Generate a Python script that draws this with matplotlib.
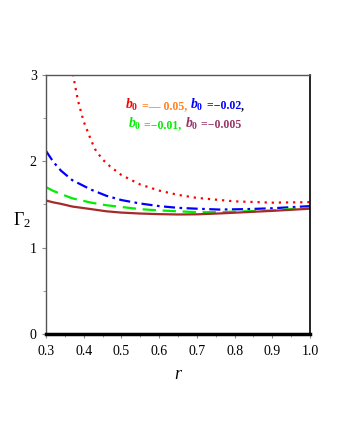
import matplotlib
matplotlib.use('Agg')
import matplotlib.pyplot as plt
from matplotlib.offsetbox import TextArea, HPacker, VPacker, AnnotationBbox

# serif look like the reference
plt.rcParams['font.family'] = ['Liberation Serif', 'DejaVu Serif']
plt.rcParams['mathtext.fontset'] = 'custom'
plt.rcParams['mathtext.rm'] = 'Liberation Serif'
plt.rcParams['mathtext.it'] = 'Liberation Serif:italic:bold'
plt.rcParams['mathtext.bf'] = 'Liberation Serif:bold'

# values
r_red = [0.36, 0.372, 0.385, 0.40, 0.42, 0.43, 0.45, 0.47, 0.50, 0.55, 0.60, 0.65, 0.70, 0.80, 0.90, 1.00]
g_red = [3.25, 3.00, 2.70, 2.46, 2.24, 2.14, 2.02, 1.94, 1.84, 1.73, 1.66, 1.61, 1.575, 1.535, 1.52, 1.526]

r_rest = [0.30, 0.32, 0.34, 0.37, 0.42, 0.46, 0.50, 0.55, 0.60, 0.65, 0.70, 0.76, 0.83, 0.90, 1.00]
g_blue = [2.12, 1.99, 1.89, 1.78, 1.67, 1.60, 1.55, 1.51, 1.48, 1.46, 1.45, 1.44, 1.445, 1.455, 1.48]
g_green = [1.70, 1.655, 1.62, 1.57, 1.52, 1.49, 1.47, 1.445, 1.43, 1.42, 1.41, 1.41, 1.42, 1.43, 1.46]
g_brown = [1.545, 1.523, 1.506, 1.475, 1.445, 1.42, 1.405, 1.394, 1.387, 1.383, 1.385, 1.395, 1.41, 1.425, 1.45]

xticks = [0.3, 0.4, 0.5, 0.6, 0.7, 0.8, 0.9, 1.0]
yticks = [0, 1, 2, 3]

fig = plt.figure(figsize=(3.4, 4.4), dpi=100)
ax = fig.add_axes([0.135, 0.241, 0.777, 0.589])

ax.plot(r_red, g_red, color='#FF0000', linestyle=(0, (1, 2.2)), lw=1.6)
ax.plot(r_rest, g_blue, color='#0000FF', linestyle=(0, (5, 2, 1.2, 2)), lw=1.6)
ax.plot(r_rest, g_green, color='#00EE00', linestyle=(0, (6, 3)), lw=1.6)
ax.plot(r_rest, g_brown, color='#A52A2A', linestyle='-', lw=1.6)

ax.set_xlim(0.3, 1.0)
ax.set_ylim(0, 3)
ax.set_xticks(xticks)
ax.set_xticklabels(['%.1f' % t for t in xticks])
ax.set_yticks(yticks)
ax.set_xticks([0.35, 0.45, 0.55, 0.65, 0.75, 0.85, 0.95], minor=True)
ax.set_yticks([0.5, 1.5, 2.5], minor=True)
ax.tick_params(axis='both', which='major', labelsize=10, length=3, color='#888888')
ax.tick_params(axis='x', which='major', pad=5)
ax.tick_params(axis='both', which='minor', length=2, color='#888888')

for s in ['left', 'top']:
    ax.spines[s].set_color('#555555')
    ax.spines[s].set_linewidth(1.0)
ax.spines['right'].set_color('black')
ax.spines['right'].set_linewidth(1.2)
ax.spines['bottom'].set_color('black')
ax.spines['bottom'].set_linewidth(2.5)

ax.set_xlabel('r', fontsize=13, style='italic', labelpad=6)
ax.set_ylabel(r'$\Gamma_2$', fontsize=13, rotation=0, va='center')
ax.yaxis.set_label_coords(-0.09, 0.44)

# legend-like coloured text
fs = 8.5
def piece(s, c, size=fs):
    return TextArea(s, textprops=dict(color=c, fontsize=size, fontweight='bold'))

bsz = 10
line1 = HPacker(children=[piece(r'$b_\mathbf{0}$', '#FF0000', bsz), piece(' =\u2014 0.05, ', '#FF8020'),
                          piece(r'$b_\mathbf{0}$', '#0000FF', bsz), piece(' =\u22120.02', '#0000FF'),
                          piece(',', 'black')], sep=0, align='baseline')
line2 = HPacker(children=[piece(r'$b_\mathbf{0}$', '#00EE00', bsz), piece(' =\u22120.01, ', '#00EE00'),
                          piece(r'$b_\mathbf{0}$', '#993366', bsz), piece(' =\u22120.005', '#993366')],
                sep=0, align='baseline')
box = VPacker(children=[line1, line2], sep=2, align='center')
ab = AnnotationBbox(box, (0.525, 0.847), xycoords='axes fraction', frameon=False, pad=0)
ax.add_artist(ab)

fig.savefig('out.png', dpi=100)
